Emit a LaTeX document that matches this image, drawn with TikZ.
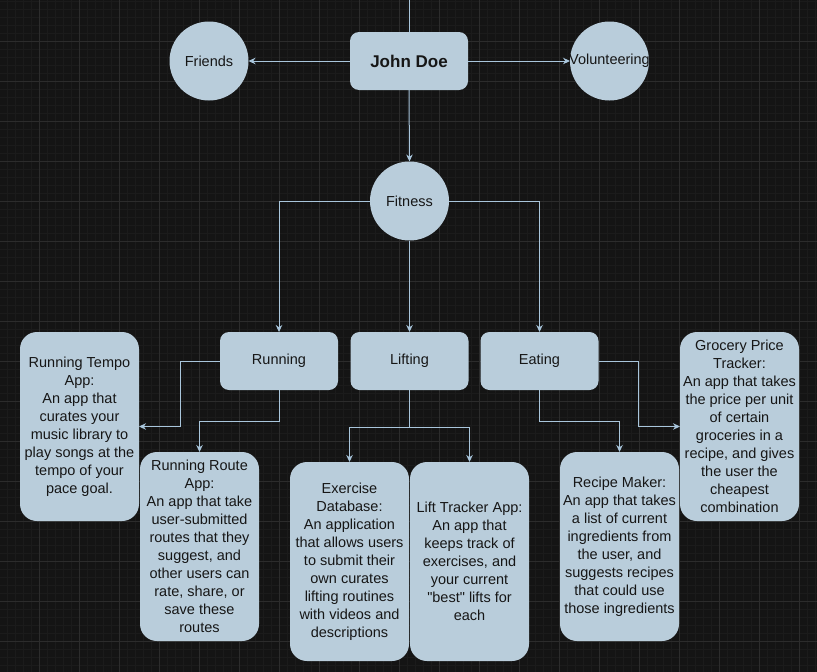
\documentclass[tikz,border=0pt]{standalone}
\usepackage{fontspec}
\setmainfont{Liberation Sans}[Ligatures=TeXOff]
\usetikzlibrary{arrows.meta}

\definecolor{canvas}{HTML}{141414}
\definecolor{gridmajor}{HTML}{2C2C2C}
\definecolor{gridminor}{HTML}{1B1B1B}
\definecolor{boxblue}{HTML}{B9CDDB}
\definecolor{linkblue}{HTML}{A9C6DC}
\definecolor{ink}{HTML}{161616}

\tikzset{
  box/.style={fill=boxblue, rounded corners=9pt, minimum width=118pt, minimum height=58pt,
    inner sep=0pt, outer sep=0pt, text=ink, align=center, font=\fontsize{14.5}{18}\selectfont},
  app/.style={box, rounded corners=17pt, minimum width=119pt, minimum height=189pt},
  bubble/.style={circle, fill=boxblue, minimum size=79pt, inner sep=0pt, outer sep=0pt,
    text=ink, font=\fontsize{14.5}{18}\selectfont},
  link/.style={draw=linkblue, line width=1pt, -{Stealth[length=7pt,width=6.5pt]}},
  plain/.style={draw=linkblue, line width=1pt},
}

\begin{document}
\begin{tikzpicture}[x=1pt,y=-1pt]
	% canvas and grid
	\fill[canvas] (0,0) rectangle (817,672);
	\useasboundingbox (0,0) rectangle (817,672);
	\foreach \gx in {-0.5,7.5,...,817} \draw[gridminor, line width=0.6pt] (\gx,0) -- (\gx,672);
	\foreach \gy in {1.3,9.3,...,672} \draw[gridminor, line width=0.6pt] (0,\gy) -- (817,\gy);
	\foreach \gx in {39.5,79.5,...,817} \draw[gridmajor, line width=0.8pt] (\gx,0) -- (\gx,672);
	\foreach \gy in {41.3,81.3,...,672} \draw[gridmajor, line width=0.8pt] (0,\gy) -- (817,\gy);

	% top row
	\node (jd) at (409,61)  [box, font=\fontsize{17}{20}\selectfont\bfseries] {John Doe};
	\node (fr) at (209,61)  [bubble] {Friends};
	\node (vo) at (609.5,61) [bubble] {\makebox[0pt]{Volunteering}};
	\coordinate (top) at (409,0);

	% fitness and its branches
	\node (fit) at (409.5,201) [bubble] {Fitness};
	\node (run) at (279,361)  [box] {Running};
	\node (lft) at (409.5,361) [box] {Lifting};
	\node (eat) at (539.5,361) [box] {Eating};

	% apps
	\node (tempo) at (79.5,426.5) [app] {Running Tempo\\App:\\An app that\\curates your\\music library to\\play songs at the\\tempo of your\\pace goal.};
	\node (route) at (199.5,546.5) [app] {Running Route\\App:\\An app that take\\user-submitted\\routes that they\\suggest, and\\other users can\\rate, share, or\\save these\\routes};
	\node (exdb) at (349.5,561.5) [app, minimum height=199pt] {Exercise\\Database:\\An application\\that allows users\\to submit their\\own curates\\lifting routines\\with videos and\\descriptions};
	\node (ltrk) at (469.5,561.5) [app, minimum height=199pt] {Lift Tracker App:\\An app that\\keeps track of\\exercises, and\\your current\\"best" lifts for\\each};
	\node (recipe) at (619.5,546.5) [app] {Recipe Maker:\\An app that takes\\a list of current\\ingredients from\\the user, and\\suggests recipes\\that could use\\those ingredients};
	\node (groc) at (739.5,426.5) [app] {Grocery Price\\Tracker:\\An app that takes\\the price per unit\\of certain\\groceries in a\\recipe, and gives\\the user the\\cheapest\\combination};

	% connectors
	\draw[plain] (jd.north) -- (top);
	\draw[link] (jd.west) -- (fr.east);
	\draw[link] (jd.east) -- (vo.west);
	\draw[link] (jd.south) -- (fit.north);
	\draw[link] (fit.west) -| (run.north);
	\draw[link] (fit.south) -- (lft.north);
	\draw[link] (fit.east) -| (eat.north);
	\draw[link] (run.west) -- ++(-40,0) |- (tempo.east);
	\draw[link] (run.south) -- ++(0,31) -| (route.north);
	\draw[link] (lft.south) -- ++(0,37) -| (exdb.north);
	\draw[link] (lft.south) -- ++(0,37) -| (ltrk.north);
	\draw[link] (eat.east) -- ++(40,0) |- (groc.west);
	\draw[link] (eat.south) -- ++(0,31) -| (recipe.north);
\end{tikzpicture}
\end{document}
